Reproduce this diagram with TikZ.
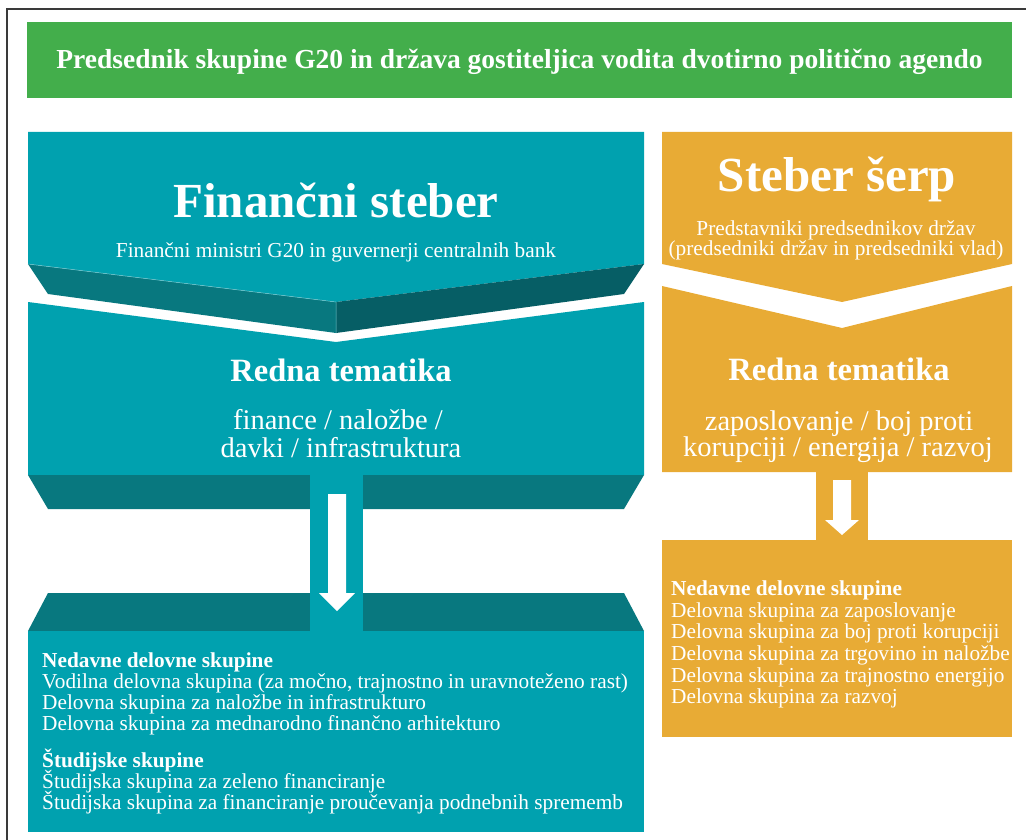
\documentclass[tikz,border=0pt]{standalone}
\usepackage{fontspec}
\setmainfont{Liberation Serif}
\definecolor{gbar}{HTML}{43AE4B}
\definecolor{tealc}{HTML}{00A1AF}
\definecolor{bandl}{HTML}{08787F}
\definecolor{bandr}{HTML}{065E65}
\definecolor{orangec}{HTML}{E8AB35}
\definecolor{framec}{HTML}{3A3A3A}
\tikzset{
  txt/.style={text=white, inner sep=0pt, anchor=base},
  titletext/.style={txt, font=\fontsize{27.5}{30}\selectfont\bfseries},
  bigtext/.style={txt, font=\fontsize{49}{52}\selectfont\bfseries},
  subtext/.style={txt, font=\fontsize{21.3}{22}\selectfont},
  headtext/.style={txt, font=\fontsize{32.5}{34}\selectfont\bfseries},
  topictext/.style={txt, font=\fontsize{28.5}{30}\selectfont},
  listtext/.style={txt, anchor=base west, font=\fontsize{21.3}{22}\selectfont},
  listhead/.style={listtext, font=\fontsize{21.3}{22}\selectfont\bfseries},
}
\begin{document}
\begin{tikzpicture}[x=1pt,y=-1pt]
\useasboundingbox (0,0) rectangle (1026,840);
% frame
\draw[framec, line width=1.6pt] (7,840) -- (7,9) -- (1026,9);
% title bar
\fill[gbar] (27,22) rectangle (1012,98);
\node[titletext] (title) at (519.5,69) {Predsednik skupine G20 in država gostiteljica vodita dvotirno politično agendo};

% ---- financial pillar (teal)
\fill[tealc] (28,132) -- (644,132) -- (644,264) -- (336,302) -- (28,264) -- cycle;
\fill[bandl] (28,264) -- (336,302) -- (336,333) -- (48,294) -- cycle;
\fill[bandr] (336,302) -- (644,264) -- (624,294) -- (336,333) -- cycle;
\draw[white!45!tealc, line width=0.5pt] (28,264) -- (336,302) -- (336,333);
\fill[tealc] (28,302) -- (336,342) -- (644,302) -- (644,475) -- (28,475) -- cycle;
\fill[bandl] (28,475) -- (644,475) -- (624,509) -- (48,509) -- cycle;
\fill[bandl] (48,593) -- (624,593) -- (644,631) -- (28,631) -- cycle;
\fill[tealc] (310,475) rectangle (363,631);
\fill[tealc] (28,631) rectangle (644,832);
\fill[white] (328,494) -- (346,494) -- (346,593) -- (355,593) -- (337,611) -- (319,593) -- (328,593) -- cycle;

\node[bigtext] (fin) at (336,217) {Finančni steber};
\node[subtext] (finsub) at (336,257) {Finančni ministri G20 in guvernerji centralnih bank};
\node[headtext] (finhead) at (341,381) {Redna tematika};
\node[topictext] (fint1) at (338,429) {finance / naložbe /};
\node[topictext] (fint2) at (341,457) {davki / infrastruktura};
\node[listhead] (finl0) at (42,667) {Nedavne delovne skupine};
\node[listtext] (finl1) at (42,688) {Vodilna delovna skupina (za močno, trajnostno in uravnoteženo rast)};
\node[listtext] (finl2) at (42,709) {Delovna skupina za naložbe in infrastrukturo};
\node[listtext] (finl3) at (42,730) {Delovna skupina za mednarodno finančno arhitekturo};
\node[listhead] (finl4) at (42,767) {Študijske skupine};
\node[listtext] (finl5) at (42,788) {Študijska skupina za zeleno financiranje};
\node[listtext] (finl6) at (42,809) {Študijska skupina za financiranje proučevanja podnebnih sprememb};

% ---- sherpa pillar (orange)
\fill[orangec] (662,132) -- (1012,132) -- (1012,264) -- (842,302) -- (662,264) -- cycle;
\fill[orangec] (662,286) -- (842,328) -- (1012,286) -- (1012,472) -- (662,472) -- cycle;
\fill[orangec] (816,472) rectangle (868,540);
\fill[orangec] (662,540) rectangle (1012,737);
\fill[white] (833,480) -- (851,480) -- (851,520) -- (859,520) -- (842,535) -- (825,520) -- (833,520) -- cycle;

\node[bigtext] (sher) at (837,192) {Steber šerp};
\node[subtext] (shersub1) at (836,235) {Predstavniki predsednikov držav};
\node[subtext] (shersub2) at (836,255) {(predsedniki držav in predsedniki vlad)};
\node[headtext] (sherhead) at (839,380) {Redna tematika};
\node[topictext] (shert1) at (839,430) {zaposlovanje / boj proti};
\node[topictext] (shert2) at (838,456) {korupciji / energija / razvoj};
\node[listhead] (sherl0) at (671,595) {Nedavne delovne skupine};
\node[listtext] (sherl1) at (671,617) {Delovna skupina za zaposlovanje};
\node[listtext] (sherl2) at (671,638) {Delovna skupina za boj proti korupciji};
\node[listtext] (sherl3) at (671,660) {Delovna skupina za trgovino in naložbe};
\node[listtext] (sherl4) at (671,682) {Delovna skupina za trajnostno energijo};
\node[listtext] (sherl5) at (671,703) {Delovna skupina za razvoj};
\end{tikzpicture}
\end{document}
